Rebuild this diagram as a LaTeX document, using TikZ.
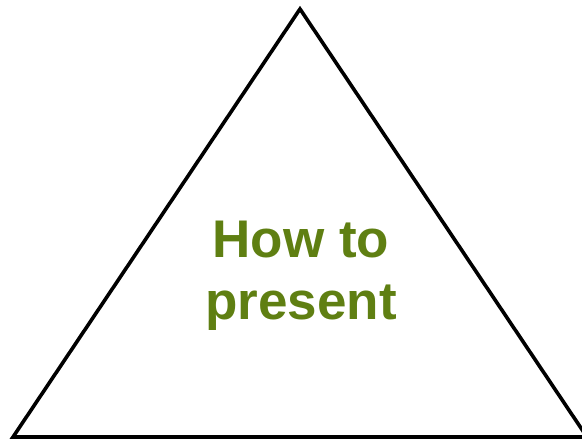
\documentclass[tikz,border=0pt]{standalone}
\usepackage{fontspec}
\setmainfont{Liberation Sans}
\definecolor{ink}{HTML}{000000}
\definecolor{leaf}{HTML}{5F7F12}

\begin{document}
\begin{tikzpicture}[x=1pt,y=-1pt,
  edge/.style={draw=ink,line width=3.6pt,line join=miter},
  label/.style={text=leaf,font=\fontsize{53}{62}\selectfont\bfseries,
    align=center,inner sep=0pt}]

% canvas matches the 582 x 442 frame
\useasboundingbox (0,0) rectangle (582,442);

% -------------------------------------------------------------------------
% Triangle with its label in the middle.
% -------------------------------------------------------------------------
\coordinate (top)   at (300,9);
\coordinate (left)  at (13,437);
\coordinate (right) at (587,437);
\draw[edge] (top) -- (left) -- (right) -- cycle;

\node[label] (title) at (301,276) {How to\\present};
\end{tikzpicture}
\end{document}
